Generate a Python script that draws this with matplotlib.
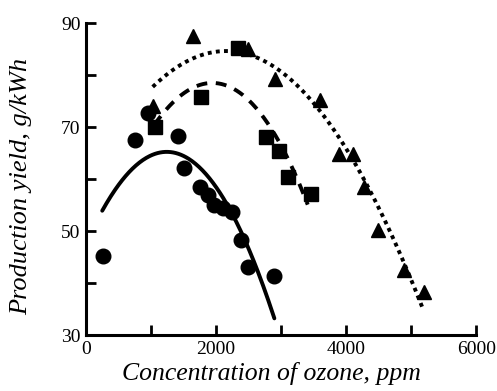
import matplotlib
matplotlib.use("Agg")
import matplotlib.pyplot as plt
import numpy as np

plt.rcParams['font.family'] = ['Liberation Serif', 'DejaVu Serif']

# measured points, three series
circ_x = [257, 758, 950, 1410, 1513, 1759, 1872, 1974, 2103, 2241, 2385, 2487, 2897]
circ_y = [45.3, 67.5, 72.8, 68.2, 62.1, 58.4, 56.9, 55.0, 54.4, 53.7, 48.3, 43.1, 41.3]

sq_x = [1062, 1769, 2333, 2769, 2964, 3103, 3462]
sq_y = [70.0, 75.7, 85.3, 68.1, 65.4, 60.4, 57.1]

tri_x = [1031, 1651, 2487, 2913, 3600, 3897, 4103, 4282, 4487, 4887, 5200]
tri_y = [74.0, 87.6, 85.1, 79.3, 75.2, 64.9, 64.8, 58.5, 50.2, 42.5, 38.2]

# fitted trend curves (points along each curve)
fit1_x = [250, 692, 949, 1205, 1513, 1769, 2026, 2282, 2487, 2743, 2897]
fit1_y = [54.0, 61.4, 64.3, 65.4, 64.6, 62.1, 57.2, 52.8, 47.0, 39.3, 32.9]

fit2_x = [1050, 1462, 1718, 1974, 2231, 2487, 2744, 2923, 3154, 3333, 3410]
fit2_y = [70.5, 75.8, 78.1, 78.8, 77.6, 75.0, 71.8, 68.1, 62.4, 58.5, 54.4]

fit3_x = [1026, 1333, 1641, 1949, 2615, 2923, 3231, 3487, 3692, 3897, 4077, 4256,
          4436, 4692, 4846, 5026, 5180]
fit3_y = [77.7, 81.0, 83.2, 84.5, 82.9, 81.3, 78.4, 75.8, 72.0, 67.5, 63.3, 59.8,
          56.0, 50.8, 45.1, 39.9, 34.8]


def smooth(xs, ys, deg=3):
    c = np.polyfit(xs, ys, deg)
    xx = np.linspace(xs[0], xs[-1], 200)
    return xx, np.polyval(c, xx)


fig = plt.figure(figsize=(4.97, 3.91), dpi=100)
ax = fig.add_axes([0.173, 0.143, 0.785, 0.798])

xx, yy = smooth(fit1_x, fit1_y, 4)
ax.plot(xx, yy, color='black', lw=2.8, solid_capstyle='round')
xx, yy = smooth(fit2_x, fit2_y, 4)
ax.plot(xx, yy, color='black', lw=2.8, dashes=(2.8, 2.2))
xx, yy = smooth(fit3_x, fit3_y, 4)
ax.plot(xx, yy, color='black', lw=2.8, dashes=(1.0, 1.1))

ax.plot(circ_x, circ_y, 'o', color='black', ms=10.5, ls='none')
ax.plot(sq_x, sq_y, 's', color='black', ms=10, ls='none')
ax.plot(tri_x, tri_y, '^', color='black', ms=10, ls='none')

ax.set_xlim(0, 6000)
ax.set_ylim(30, 90)
ax.spines['top'].set_visible(False)
ax.spines['right'].set_visible(False)
ax.spines['left'].set_linewidth(2.2)
ax.spines['bottom'].set_linewidth(2.2)

ax.set_xticks(range(0, 6001, 1000))
ax.set_xticklabels(['0', '', '2000', '', '4000', '', '6000'], fontsize=14)
ax.set_yticks(range(30, 91, 10))
ax.set_yticklabels(['30', '', '50', '', '70', '', '90'], fontsize=14)
ax.tick_params(direction='in', length=7, width=2, pad=4)

ax.set_xlabel('Concentration of ozone, ppm', fontsize=18.5, style='italic')
ax.set_ylabel('Production yield, g/kWh', fontsize=19, style='italic')
ax.xaxis.set_label_coords(0.475, -0.085)
ax.yaxis.set_label_coords(-0.138, 0.475)

fig.savefig('out.png', dpi=100)
